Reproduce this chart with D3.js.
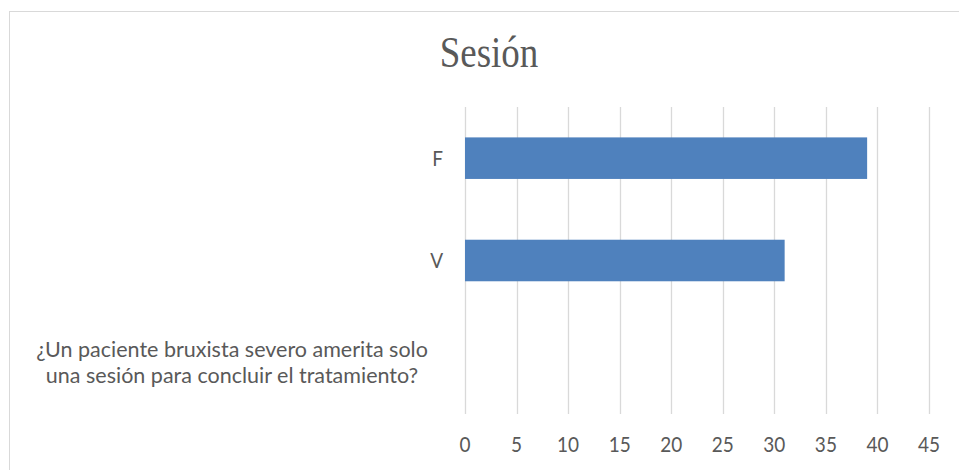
<!DOCTYPE html>
<html><head><meta charset="utf-8">
<script src="https://cdn.jsdelivr.net/npm/d3@7"></script>
<style>body{margin:0;background:#fff}svg{display:block}</style>
</head><body>
<svg id="c" width="959" height="470"></svg>
<script>
const title = "Sesión";
const categories = ["F", "V", "¿Un paciente bruxista severo amerita solo|una sesión para concluir el tratamiento?"];
const values = [39, 31, null];
const xTicks = [0, 5, 10, 15, 20, 25, 30, 35, 40, 45];

const svg = d3.select("#c");
const W = 959, H = 470;
const m = {left: 465, right: 959 - 929, top: 107, bottom: 470 - 414};
const x = d3.scaleLinear().domain([0, 45]).range([m.left, W - m.right]);
const y = d3.scaleBand().domain(categories).range([m.top, H - m.bottom]).paddingInner(0.594).paddingOuter(0.297);
const txt = "#595959";
const FONT = "Lato, 'Open Sans', sans-serif";

function label(g, tx, ty, str, opts) {
  const gg = g.append("g").attr("transform", `translate(${tx},${ty}) scale(1,${opts.sy || 1})`);
  return gg.append("text").attr("x", 0).attr("y", 0)
    .attr("text-anchor", opts.anchor || "middle")
    .attr("font-family", opts.family || FONT)
    .attr("font-size", opts.size).attr("fill", txt).text(str);
}

svg.append("rect").attr("x", 9.5).attr("y", 11.5).attr("width", 960).attr("height", 470)
  .attr("fill", "#fff").attr("stroke", "#d9d9d9").attr("stroke-width", 1);

label(svg, 489, 67, title, {size: 37, family: "Liberation Serif, Times New Roman, serif", sy: 1.19});

// gridlines
svg.append("g").selectAll("line").data(xTicks).join("line")
  .attr("x1", d => Math.round(x(d)) + 0.5).attr("x2", d => Math.round(x(d)) + 0.5)
  .attr("y1", m.top).attr("y2", H - m.bottom)
  .attr("stroke", "#d9d9d9").attr("stroke-width", 1.3);

// x axis labels
const gx = svg.append("g");
xTicks.forEach(t => label(gx, x(t), 452, d3.format("d")(t), {size: 19, sy: 1.08}));

// bars
svg.append("g").selectAll("rect").data(categories.map((c, i) => ({c, v: values[i]})).filter(d => d.v != null))
  .join("rect")
  .attr("x", x(0)).attr("y", d => y(d.c)).attr("width", d => x(d.v) - x(0)).attr("height", y.bandwidth())
  .attr("fill", "#4f81bd");

// y labels
const gy = svg.append("g");
categories.forEach(c => {
  const lines = c.split("|");
  const cy = y(c) + y.bandwidth() / 2;
  if (lines.length === 1) {
    label(gy, 443, cy + 7.5, c, {size: 19, anchor: "end", sy: 1.08});
  } else {
    const lh = 26;
    const ts = lines.map((l, i) =>
      label(gy, 232, cy + 7 + (i - (lines.length - 1) / 2) * lh, l, {size: 20}));
    // fit first line width to reference (~410px)
    const w0 = ts[0].node().getComputedTextLength();
    const s = Math.min(21.5, 20 * 410 / w0);
    ts.forEach(t => t.attr("font-size", s));
  }
});
</script>
</body></html>
